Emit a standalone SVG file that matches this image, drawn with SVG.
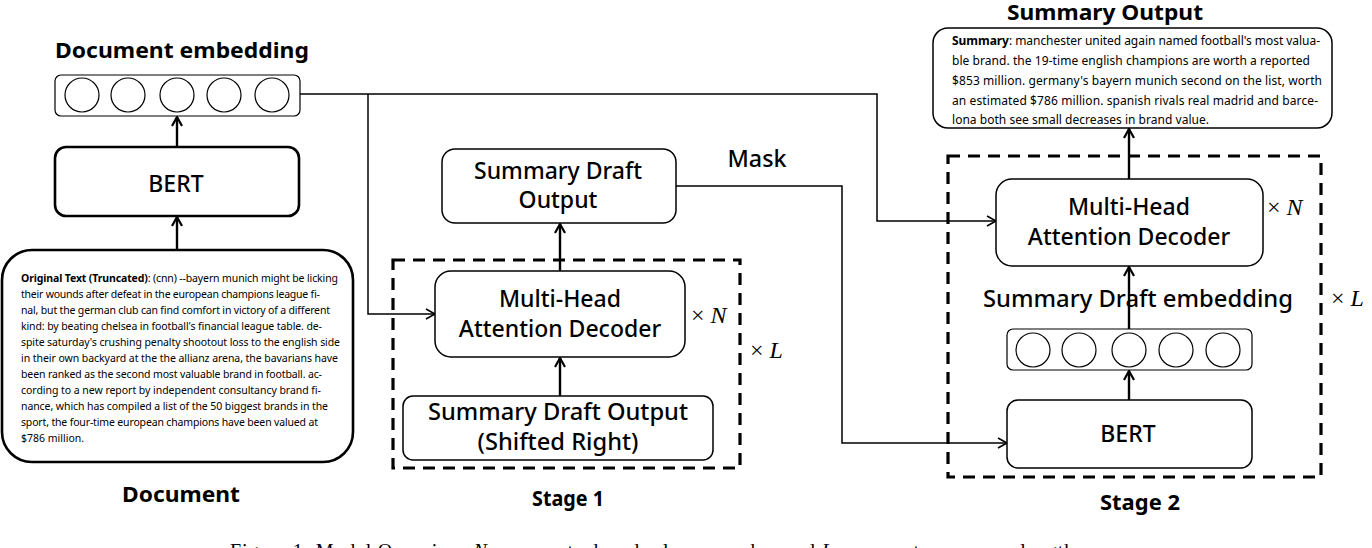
<svg xmlns="http://www.w3.org/2000/svg" width="1372" height="548" viewBox="0 0 1372 548">
<style>
.box{fill:#fff;stroke:#000;stroke-width:1.5}
.thick{fill:#fff;stroke:#000;stroke-width:2.6}
.emb{fill:#fff;stroke:#000;stroke-width:1.2}
.dash{fill:none;stroke:#000;stroke-width:3.2;stroke-dasharray:12 8}
.lbl{font-family:"Noto Sans","Open Sans",sans-serif;font-size:23px;font-weight:500;fill:#000;text-anchor:middle}
.ttl{font-family:"Noto Sans","Open Sans",sans-serif;font-size:21px;font-weight:bold;fill:#000}
.small{font-family:"Noto Sans","Open Sans",sans-serif;font-size:10.5px;fill:#000}
.sum{font-family:"Noto Sans","Open Sans",sans-serif;font-size:12px;fill:#000}
.math{font-family:"Liberation Serif","DejaVu Serif",serif;font-size:24px;fill:#000}
.conn{fill:none;stroke:#000;stroke-width:1.5}
.arr{fill:none;stroke:#000;stroke-width:2.4}
.cap{font-family:"Liberation Serif","Times New Roman",serif;font-size:20px;fill:#000}
</style>
<defs>
<marker id="ah" markerUnits="userSpaceOnUse" markerWidth="14" markerHeight="14" refX="10" refY="6" orient="auto" overflow="visible">
<path d="M1,1 L10,6 L1,11" fill="none" stroke="#000" stroke-width="2.2"/>
</marker>
<marker id="ahs" markerUnits="userSpaceOnUse" markerWidth="14" markerHeight="14" refX="10" refY="6" orient="auto" overflow="visible">
<path d="M1,1 L10,6 L1,11" fill="none" stroke="#000" stroke-width="1.6"/>
</marker>
</defs>

<g id="stage1-frame">
<rect class="dash" x="393" y="260" width="347" height="208"/>
<text class="ttl" x="568" y="506" text-anchor="middle" font-size="19" textLength="72" lengthAdjust="spacingAndGlyphs">Stage 1</text>
<text class="math" x="750" y="358">× <tspan font-style="italic">L</tspan></text>
</g>
<g id="stage2-frame">
<rect class="dash" x="948" y="156" width="373" height="321"/>
<text class="ttl" x="1140" y="510" text-anchor="middle" font-size="19" textLength="80" lengthAdjust="spacingAndGlyphs">Stage 2</text>
<text class="math" x="1331" y="306">× <tspan font-style="italic">L</tspan></text>
</g>

<g id="connectors">
<line class="arr" x1="177" y1="250" x2="177" y2="217" marker-end="url(#ah)"/>
<line class="arr" x1="177" y1="147" x2="177" y2="117" marker-end="url(#ah)"/>
<line class="arr" x1="560" y1="396" x2="560" y2="358" marker-end="url(#ah)"/>
<line class="arr" x1="560" y1="271" x2="560" y2="224" marker-end="url(#ah)"/>
<line class="arr" x1="1129" y1="400" x2="1129" y2="371" marker-end="url(#ah)"/>
<line class="arr" x1="1129" y1="329" x2="1129" y2="267" marker-end="url(#ah)"/>
<line class="arr" x1="1129" y1="179" x2="1129" y2="129" marker-end="url(#ah)"/>
<polyline class="conn" points="300,94 877,94 877,221 996,221" marker-end="url(#ahs)"/>
<polyline class="conn" points="368,94 368,314 435,314" marker-end="url(#ahs)"/>
<polyline class="conn" points="676,186 842,186 842,443 1007,443" marker-end="url(#ahs)"/>
<text class="lbl" x="757" y="167" textLength="59" lengthAdjust="spacingAndGlyphs">Mask</text>
</g>

<g id="doc-embedding">
<text class="ttl" x="55" y="58" textLength="254" lengthAdjust="spacingAndGlyphs">Document embedding</text>
<rect class="emb" x="55" y="75" width="245" height="41" rx="6"/>
<circle class="emb" cx="82" cy="95" r="17"/>
<circle class="emb" cx="128" cy="95" r="17"/>
<circle class="emb" cx="177" cy="95" r="17"/>
<circle class="emb" cx="224" cy="95" r="17"/>
<circle class="emb" cx="272" cy="95" r="17"/>
</g>

<g id="bert1">
<rect class="thick" x="55" y="147" width="244" height="69" rx="11"/>
<text class="lbl" x="176" y="192">BERT</text>
</g>

<g id="document">
<rect class="thick" x="2" y="250" width="351" height="212" rx="30"/>
<text class="small" x="21" y="282" textLength="317" lengthAdjust="spacing"><tspan font-weight="bold">Original Text (Truncated)</tspan>: (cnn) --bayern munich might be licking</text>
<text class="small" x="21" y="298" textLength="299" lengthAdjust="spacing">their wounds after defeat in the european champions league fi-</text>
<text class="small" x="21" y="314" textLength="309" lengthAdjust="spacing">nal, but the german club can find comfort in victory of a different</text>
<text class="small" x="21" y="330" textLength="301" lengthAdjust="spacing">kind: by beating chelsea in football's financial league table. de-</text>
<text class="small" x="21" y="346" textLength="319" lengthAdjust="spacing">spite saturday's crushing penalty shootout loss to the english side</text>
<text class="small" x="21" y="362" textLength="317" lengthAdjust="spacing">in their own backyard at the the allianz arena, the bavarians have</text>
<text class="small" x="21" y="378" textLength="301" lengthAdjust="spacing">been ranked as the second most valuable brand in football. ac-</text>
<text class="small" x="21" y="394" textLength="300" lengthAdjust="spacing">cording to a new report by independent consultancy brand fi-</text>
<text class="small" x="21" y="410" textLength="307" lengthAdjust="spacing">nance, which has compiled a list of the 50 biggest brands in the</text>
<text class="small" x="21" y="426" textLength="297" lengthAdjust="spacing">sport, the four-time european champions have been valued at</text>
<text class="small" x="21" y="442">$786 million.</text>
<text class="ttl" x="181" y="502" text-anchor="middle" font-size="22" textLength="118" lengthAdjust="spacingAndGlyphs">Document</text>
</g>

<g id="summary-draft-output">
<rect class="box" x="442" y="149" width="234" height="74" rx="13"/>
<text class="lbl" x="558" y="179">Summary Draft</text>
<text class="lbl" x="558" y="208">Output</text>
</g>

<g id="decoder1">
<rect class="box" x="435" y="271" width="250" height="86" rx="16"/>
<text class="lbl" x="560" y="307">Multi-Head</text>
<text class="lbl" x="560" y="337">Attention Decoder</text>
<text class="math" x="691" y="323">× <tspan font-style="italic">N</tspan></text>
</g>

<g id="shifted-input">
<rect class="box" x="403" y="396" width="310" height="64" rx="10"/>
<text class="lbl" x="558" y="420" font-size="22" textLength="260" lengthAdjust="spacingAndGlyphs">Summary Draft Output</text>
<text class="lbl" x="558" y="450" font-size="22" textLength="161" lengthAdjust="spacingAndGlyphs">(Shifted Right)</text>
</g>

<g id="summary-output">
<text class="ttl" x="1105" y="20" text-anchor="middle" font-size="20" textLength="196" lengthAdjust="spacingAndGlyphs">Summary Output</text>
<rect class="box" x="933" y="28" width="399" height="100" rx="15"/>
<text class="sum" x="952" y="45" textLength="368" lengthAdjust="spacing"><tspan font-weight="bold">Summary</tspan>: manchester united again named football's most valua-</text>
<text class="sum" x="952" y="65" textLength="358" lengthAdjust="spacing">ble brand. the 19-time english champions are worth a reported</text>
<text class="sum" x="952" y="85" textLength="370" lengthAdjust="spacing">$853 million. germany's bayern munich second on the list, worth</text>
<text class="sum" x="952" y="105" textLength="366" lengthAdjust="spacing">an estimated $786 million. spanish rivals real madrid and barce-</text>
<text class="sum" x="952" y="124" textLength="257" lengthAdjust="spacing">lona both see small decreases in brand value.</text>
</g>

<g id="decoder2">
<rect class="box" x="996" y="179" width="267" height="87" rx="16"/>
<text class="lbl" x="1129" y="215">Multi-Head</text>
<text class="lbl" x="1129" y="245">Attention Decoder</text>
<text class="math" x="1267" y="215">× <tspan font-style="italic">N</tspan></text>
</g>

<g id="draft-embedding">
<text class="lbl" x="1138" y="307" textLength="310" lengthAdjust="spacingAndGlyphs">Summary Draft embedding</text>
<rect class="emb" x="1007" y="329" width="245" height="41" rx="6"/>
<circle class="emb" cx="1033" cy="350" r="17"/>
<circle class="emb" cx="1079" cy="350" r="17"/>
<circle class="emb" cx="1129" cy="350" r="17"/>
<circle class="emb" cx="1176" cy="350" r="17"/>
<circle class="emb" cx="1223" cy="350" r="17"/>
</g>

<g id="bert2">
<rect class="box" x="1007" y="400" width="245" height="68" rx="11"/>
<text class="lbl" x="1128" y="442">BERT</text>
</g>

<text class="cap" x="230" y="558" textLength="850" lengthAdjust="spacing">Figure 1: Model Overview, <tspan font-style="italic">N</tspan> represents decoder layer number and <tspan font-style="italic">L</tspan> represents summary length.</text>
</svg>
